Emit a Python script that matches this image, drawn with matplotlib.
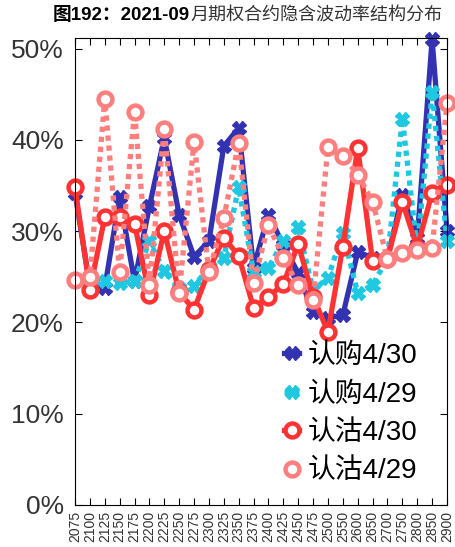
import matplotlib
matplotlib.use('Agg')
import matplotlib.pyplot as plt
from matplotlib.ticker import PercentFormatter

plt.rcParams['font.family'] = ['Liberation Sans', 'Noto Sans CJK SC']

strikes = ['2075', '2100', '2125', '2150', '2175', '2200', '2225', '2250', '2275',
           '2300', '2325', '2350', '2375', '2400', '2425', '2450', '2475', '2500',
           '2550', '2600', '2650', '2700', '2750', '2800', '2850', '2900']

call_0430 = [0.342, 0.240, 0.238, 0.337, 0.245, 0.327, 0.402, 0.318, 0.272, 0.289,
             0.393, 0.413, 0.260, 0.318, 0.285, 0.254, 0.211, 0.205, 0.208, 0.277,
             0.271, 0.270, 0.340, 0.292, 0.510, 0.300]
call_0429 = [0.245, 0.245, 0.245, 0.243, 0.245, 0.289, 0.256, 0.238, 0.240, 0.260,
             0.271, 0.348, 0.255, 0.260, 0.289, 0.304, 0.235, 0.249, 0.298, 0.232,
             0.241, 0.270, 0.423, 0.280, 0.452, 0.289]
put_0430 = [0.348, 0.236, 0.315, 0.316, 0.308, 0.230, 0.300, 0.233, 0.214, 0.257,
            0.293, 0.273, 0.216, 0.228, 0.242, 0.286, 0.228, 0.190, 0.283, 0.391,
            0.267, 0.270, 0.332, 0.282, 0.342, 0.351]
put_0429 = [0.247, 0.250, 0.445, 0.255, 0.431, 0.241, 0.412, 0.232, 0.398, 0.255,
            0.314, 0.397, 0.243, 0.307, 0.271, 0.241, 0.225, 0.392, 0.382, 0.362,
            0.332, 0.269, 0.276, 0.279, 0.282, 0.440]

fig = plt.figure(figsize=(4.56, 5.47), dpi=100)
ax = fig.add_axes([75 / 456, 42 / 547, 372 / 456, 466.5 / 547])

x = range(len(strikes))
ax.plot(x, call_0430, color='#3333b2', lw=3.8, marker='X', ms=10,
        label='认购4/30', clip_on=False)
ax.plot(x, call_0429, color='#1ec8e0', lw=3.8, ls=(0, (1, 0.9)), marker='X', ms=10,
        label='认购4/29', clip_on=False)
ax.plot(x, put_0430, color='#ff3333', lw=3.8, marker='o', ms=10, mew=3.2,
        mfc='white', label='认沽4/30', clip_on=False)
ax.plot(x, put_0429, color='#ff7f7f', lw=3.8, ls=(0, (1, 0.9)), marker='o', ms=10,
        mew=3.2, mfc='white', label='认沽4/29', clip_on=False)

ax.set_xlim(0, len(strikes) - 1)
ax.set_ylim(0, 0.511)
ax.set_xticks(list(x))
ax.set_xticklabels(strikes, rotation=90, fontsize=10, color='#333333')
ax.set_yticks([0, 0.1, 0.2, 0.3, 0.4, 0.5])
ax.yaxis.set_major_formatter(PercentFormatter(1.0, decimals=0))
ax.tick_params(axis='y', labelsize=19, labelcolor='#333333', direction='in',
               right=True, length=5, pad=8)
ax.tick_params(axis='x', direction='in', top=True, length=5, pad=4)

ax.legend(loc='upper left', bbox_to_anchor=(284 / 456, 1 - 343 / 547),
          bbox_transform=fig.transFigure, frameon=False, fontsize=20,
          handlelength=0.55, handletextpad=0.3, labelspacing=0.45,
          borderaxespad=0, borderpad=0)

title_y = 1 - 16 / 547
fig.text(190 / 456, title_y, '图192：2021-09', fontsize=13.5, fontweight='bold',
         ha='right', va='center')
fig.text(190 / 456, title_y, '月期权合约隐含波动率结构分布', fontsize=13,
         ha='left', va='center', color='#333333')

fig.savefig('out.png', dpi=100)
